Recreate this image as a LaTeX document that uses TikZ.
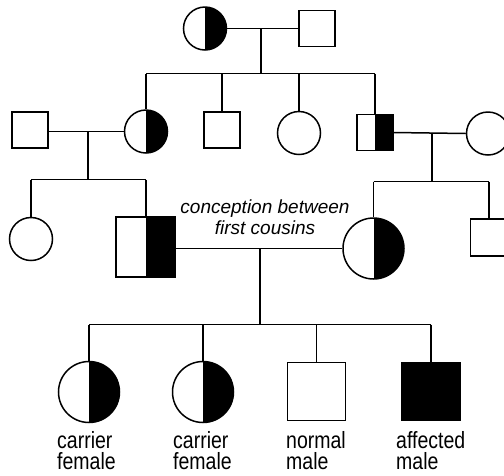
\documentclass[tikz,border=0pt]{standalone}
\usepackage{fontspec}
\setmainfont{Liberation Sans}
\begin{document}
\begin{tikzpicture}[x=1pt,y=-1pt,
  lw/.style={line width=1.5pt},
  fem/.style={circle, draw, lw, fill=white, inner sep=0pt, minimum size=#1},
  mal/.style={rectangle, draw, lw, fill=white, inner sep=0pt, minimum size=#1},
  halffill/.style={path picture={\fill[black] (path picture bounding box.north) rectangle (path picture bounding box.south east);}},
  link/.style={lw},
  lbl/.style={anchor=north west, inner sep=0pt, align=left, xscale=0.83, font=\fontsize{23.5}{21.5}\selectfont},
  note/.style={anchor=north, inner sep=0pt, align=center, font=\fontsize{19}{21}\selectfont\itshape}
]
\useasboundingbox (0,0) rectangle (504,475);
% Generation I
\node[fem=43pt, halffill] (g1f) at (205,28.5) {};
\node[mal=36pt] (g1m) at (317,28.5) {};
% Generation II
\node[mal=36pt] (g2a) at (30,130) {};
\node[fem=43pt, halffill] (g2b) at (146,131.5) {};
\node[mal=36pt] (g2c) at (222,130) {};
\node[fem=43pt] (g2d) at (299,133) {};
\node[mal=36pt, halffill] (g2e) at (375,132.5) {};
\node[fem=43pt] (g2f) at (488,133.5) {};
% Generation III
\node[fem=43pt] (g3a) at (31,239) {};
\node[mal, minimum width=59pt, minimum height=60pt, halffill] (g3b) at (145.5,247) {};
\node[fem=61pt, halffill] (g3c) at (373.5,248.5) {};
\node[mal=37pt] (g3d) at (489,237.5) {};
% Generation IV
\node[fem=61pt, halffill] (g4a) at (89,392) {};
\node[fem=61pt, halffill] (g4b) at (203,392) {};
\node[mal=58pt] (g4c) at (316.5,391.5) {};
\node[mal=58pt, fill=black] (g4d) at (431,391.5) {};
% coordinates
\coordinate (m1) at (261,28.5);
\coordinate (s1) at (261,73.5);
\coordinate (m2) at (88,131.5);
\coordinate (s2) at (88,179.5);
\coordinate (m3) at (432,132.5);
\coordinate (s3) at (432,181.5);
\coordinate (m4) at (260,248.5);
\coordinate (s4) at (260,324.5);
% connectors
\draw[link] (g1f.east) -- (g1m.west);
\draw[link] (m1) -- (s1);
\draw[link] (g2b.north |- s1) -- (g2e.north |- s1);
\foreach \n in {g2b,g2c,g2d,g2e} \draw[link] (\n.north |- s1) -- (\n.north);
\draw[link] (g2a.east |- m2) -- (g2b.west);
\draw[link] (m2) -- (s2);
\draw[link] (g3a.north |- s2) -- (g2b.north |- s2);
\draw[link] (g3a.north |- s2) -- (g3a.north);
\draw[link] (g2b.north |- s2) -- (g2b.north |- g3b.north);
\draw[link] (g2e.east) -- (g2f.west);
\draw[link] (m3) -- (s3);
\draw[link] (g3c.north |- s3) -- (g3d.north |- s3);
\foreach \n in {g3c,g3d} \draw[link] (\n.north |- s3) -- (\n.north);
\draw[link] (g3b.east |- m4) -- (g3c.west);
\draw[link] (m4) -- (s4);
\draw[link] (g4a.north |- s4) -- (g4d.north |- s4);
\foreach \n in {g4a,g4b,g4c,g4d} \draw[link] (\n.north |- s4) -- (\n.north);
% texts
\node[note] (cap) at (265,200) {conception between\\first cousins};
\node[lbl] (l1) at (57,431) {carrier\\female};
\node[lbl] (l2) at (173,431) {carrier\\female};
\node[lbl] (l3) at (286,431) {normal\\male};
\node[lbl] (l4) at (396,431) {affected\\male};
\end{tikzpicture}
\end{document}
